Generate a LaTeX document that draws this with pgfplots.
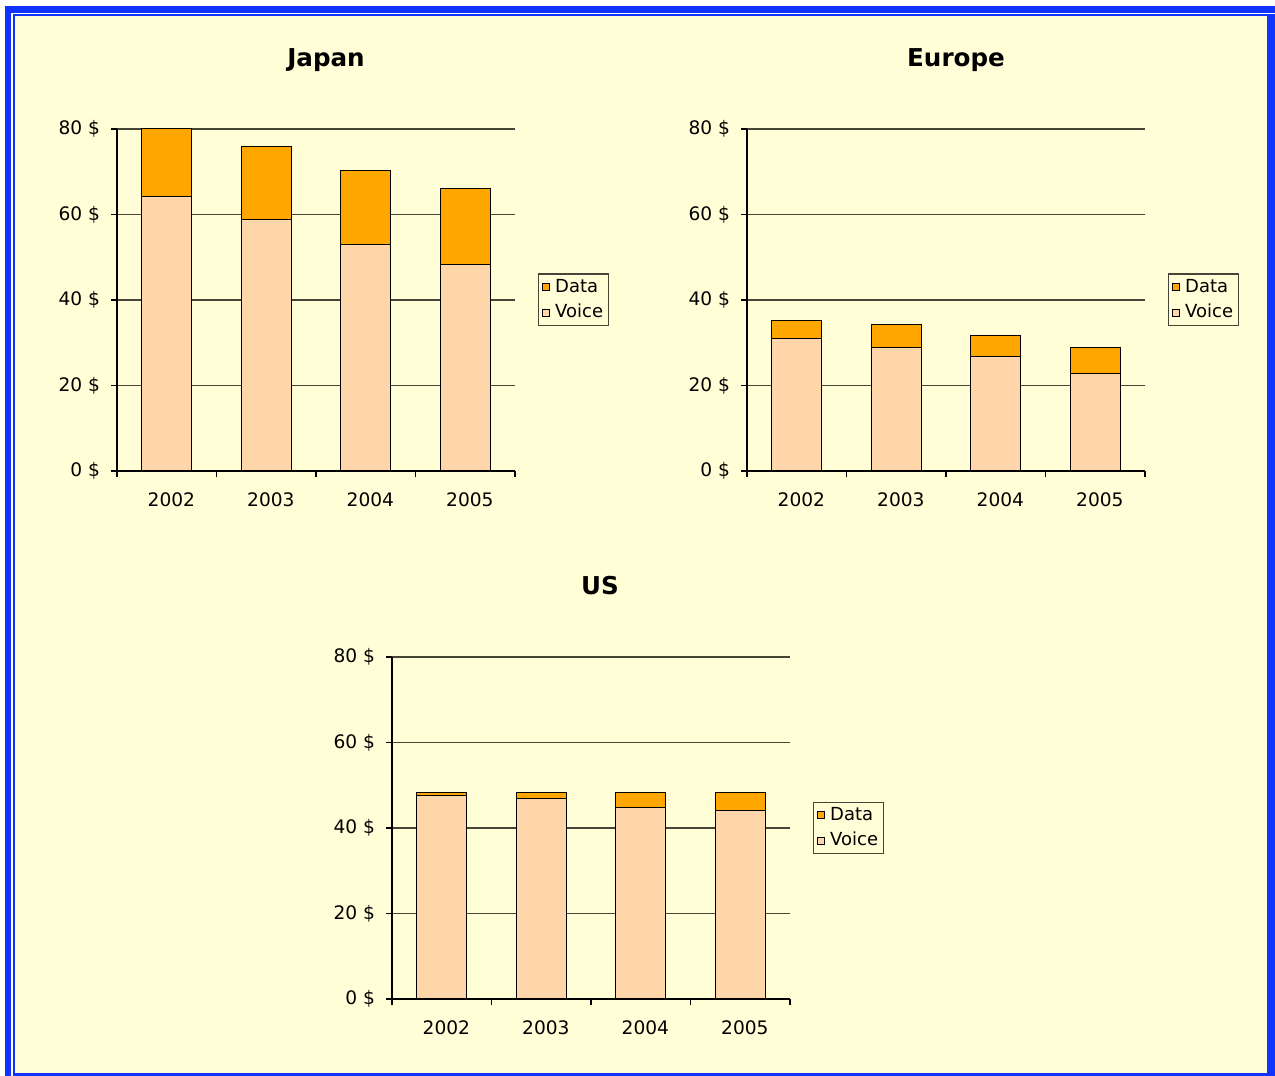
\documentclass[border=0pt]{standalone}
\usepackage{pgfplots}
\pgfplotsset{compat=1.18}
\usepackage{pgfplotstable}
\usepackage{fontspec}
\setmainfont{DejaVu Sans}
\definecolor{bgc}{RGB}{255,254,214}
\definecolor{bluec}{RGB}{17,51,255}
\definecolor{datac}{RGB}{255,166,0}
\definecolor{voicec}{RGB}{255,214,170}
\definecolor{gridc}{RGB}{70,70,56}

\pgfplotstableread{
x voice data
0 64.1 15.9
1 58.9 16.9
2 52.9 17.3
3 48.2 17.8
}\japan
\pgfplotstableread{
x voice data
0 30.9 4.2
1 29.0 5.2
2 26.7 5.1
3 22.9 6.1
}\europe
\pgfplotstableread{
x voice data
0 47.7 0.5
1 46.8 1.4
2 44.9 3.3
3 44.0 4.2
}\us

\pgfplotsset{
  sqlegend/.style={legend image code/.code={\draw[##1,draw=black,line width=0.45pt] (0pt,-1.8pt) rectangle (3.6pt,1.8pt);}},
  myax/.style={
    scale only axis, width=199pt, height=171pt, anchor=south west,
    ybar stacked, bar width=25pt,
    xmin=-0.5, xmax=3.5, ymin=0, ymax=80,
    axis x line*=bottom, axis y line*=left,
    axis line style={line width=0.7pt, -, black},
    xtick={-0.5,0.5,1.5,2.5,3.5}, xticklabels={2002,2003,2004,2005,{}},
    xticklabel style={xshift=27.2pt, yshift=-4.5pt},
    ytick={0,20,40,60,80}, yticklabels={0 \$,20 \$,40 \$,60 \$,80 \$},
    yticklabel style={xshift=-2pt},
    tick align=outside, major tick length=3pt,
    tick style={black, line width=0.7pt},
    ymajorgrids, grid style={line width=0.75pt, color=gridc},
    /pgf/number format/assume math mode=true,
    ticklabel style={font=\fontsize{9.3}{11}\selectfont},
    reverse legend,
    legend style={at={(1,0.5)}, anchor=west, xshift=11.5pt,
      draw=gridc, line width=0.7pt, fill=none,
      font=\fontsize{9}{11}\selectfont,
      inner xsep=1.5pt, inner ysep=1.2pt, row sep=2.2pt,
      nodes={inner sep=1.2pt},
      /tikz/every odd column/.append style={column sep=1.5pt}},
    legend cell align=left,
  }
}

\begin{document}
\begin{tikzpicture}
\begin{scope}[x=0.5pt,y=-0.5pt,shift={(0pt,538pt)}]
  \fill[white] (0,0) rectangle (1275,1076);
  \fill[bluec] (5,6) rectangle (1275,1076);
  \fill[white] (11,12.7) rectangle (1275,1076);
  \fill[bluec] (13,14.5) rectangle (1275,1076);
  \fill[bgc] (15,16) rectangle (1267,1072.7);
  \node[anchor=base, font=\fontsize{12.3}{14}\selectfont\bfseries] at (326,66.5) {Japan};
  \node[anchor=base, font=\fontsize{12.3}{14}\selectfont\bfseries] at (956,66.5) {Europe};
  \node[anchor=base, font=\fontsize{12.3}{14}\selectfont\bfseries] at (600,594.5) {US};
\end{scope}

\begin{axis}[myax, at={(58.5pt,302.5pt)}]
  \addplot[fill=voicec, draw=black, line width=0.5pt, sqlegend] table[x=x,y=voice]{\japan};
  \addplot[fill=datac, draw=black, line width=0.5pt, sqlegend] table[x=x,y=data]{\japan};
  \legend{Voice,Data}
\end{axis}

\begin{axis}[myax, at={(373.5pt,302.5pt)}]
  \addplot[fill=voicec, draw=black, line width=0.5pt, sqlegend] table[x=x,y=voice]{\europe};
  \addplot[fill=datac, draw=black, line width=0.5pt, sqlegend] table[x=x,y=data]{\europe};
  \legend{Voice,Data}
\end{axis}

\begin{axis}[myax, at={(196pt,38.5pt)}]
  \addplot[fill=voicec, draw=black, line width=0.5pt, sqlegend] table[x=x,y=voice]{\us};
  \addplot[fill=datac, draw=black, line width=0.5pt, sqlegend] table[x=x,y=data]{\us};
  \legend{Voice,Data}
\end{axis}
\end{tikzpicture}
\end{document}
